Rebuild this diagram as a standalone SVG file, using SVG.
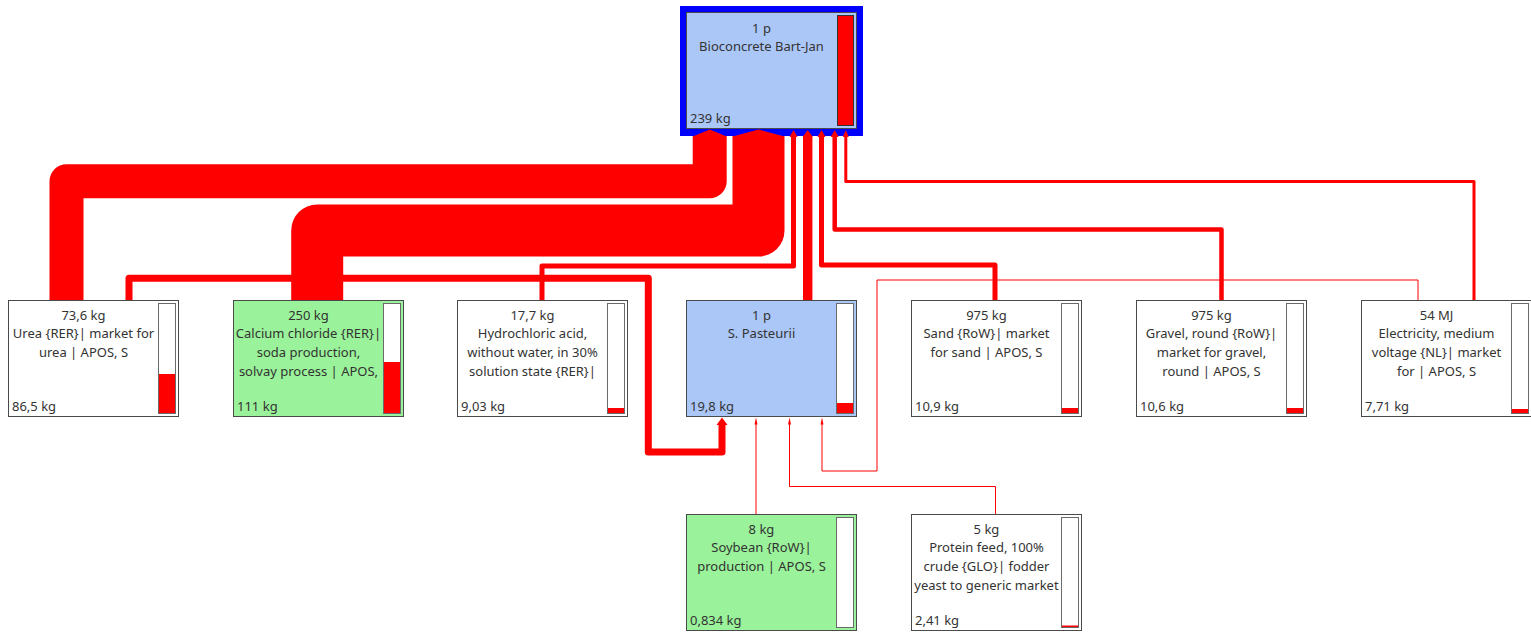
<svg xmlns="http://www.w3.org/2000/svg" width="1531" height="634" viewBox="0 0 1531 634">
<style>
text{font-family:"Noto Sans","Liberation Sans",sans-serif;font-size:13px;fill:#333}
.c{text-anchor:middle}
.box{stroke:#4a4a4a;stroke-width:1}
.white{fill:#fff}
.green{fill:#9af29a}
.blue{fill:#abc7f8}
.bar{fill:#fff;stroke:#6a6a6a;stroke-width:1}
.lvl{fill:#ff0000}
.ln{fill:none;stroke:#ff0000;stroke-linejoin:round}
.ah{fill:#ff0000}
</style>
<rect width="1531" height="634" fill="#fff"/>

<g id="node-bioconcrete">
<rect x="680" y="6" width="183" height="130" fill="#0000ff"/>
<rect x="686.5" y="12.5" width="170" height="116" class="box blue"/>
<rect x="837.5" y="15.5" width="16" height="110" fill="#ff0000" stroke="#333"/>
<text x="761.5" y="32.5" class="c">1 p</text>
<text x="761.5" y="51" class="c">Bioconcrete Bart-Jan</text>
<text x="690" y="123">239 kg</text>
</g>

<g id="node-urea">
<rect x="8.5" y="300.5" width="170" height="116" class="box white"/>
<rect x="158.5" y="303.5" width="17" height="110" class="bar"/>
<rect x="159" y="374" width="16" height="39" class="lvl"/>
<text x="83.5" y="319.5" class="c">73,6 kg</text>
<text x="83.5" y="338" class="c">Urea {RER}| market for</text>
<text x="83.5" y="357" class="c">urea | APOS, S</text>
<text x="12" y="410.5">86,5 kg</text>
</g>

<g id="node-calcium">
<rect x="233.5" y="300.5" width="170" height="116" class="box green"/>
<rect x="383.5" y="303.5" width="17" height="110" class="bar"/>
<rect x="384" y="362" width="16" height="51" class="lvl"/>
<text x="308.5" y="319.5" class="c">250 kg</text>
<text x="308.5" y="338" class="c">Calcium chloride {RER}|</text>
<text x="308.5" y="357" class="c">soda production,</text>
<text x="308.5" y="376" class="c">solvay process | APOS,</text>
<text x="237" y="410.5">111 kg</text>
</g>

<g id="node-hydrochloric">
<rect x="457.5" y="300.5" width="170" height="116" class="box white"/>
<rect x="607.5" y="303.5" width="17" height="110" class="bar"/>
<rect x="608" y="408" width="16" height="5" class="lvl"/>
<text x="532.5" y="319.5" class="c">17,7 kg</text>
<text x="532.5" y="338" class="c">Hydrochloric acid,</text>
<text x="532.5" y="357" class="c">without water, in 30%</text>
<text x="532.5" y="376" class="c">solution state {RER}|</text>
<text x="461" y="410.5">9,03 kg</text>
</g>

<g id="node-pasteurii">
<rect x="686.5" y="300.5" width="170" height="116" class="box blue"/>
<rect x="836.5" y="303.5" width="17" height="110" class="bar"/>
<rect x="837" y="403" width="16" height="10" class="lvl"/>
<text x="761.5" y="319.5" class="c">1 p</text>
<text x="761.5" y="338" class="c">S. Pasteurii</text>
<text x="690" y="410.5">19,8 kg</text>
</g>

<g id="node-sand">
<rect x="911.5" y="300.5" width="170" height="116" class="box white"/>
<rect x="1061.5" y="303.5" width="17" height="110" class="bar"/>
<rect x="1062" y="408" width="16" height="5" class="lvl"/>
<text x="986.5" y="319.5" class="c">975 kg</text>
<text x="986.5" y="338" class="c">Sand {RoW}| market</text>
<text x="986.5" y="357" class="c">for sand | APOS, S</text>
<text x="915" y="410.5">10,9 kg</text>
</g>

<g id="node-gravel">
<rect x="1136.5" y="300.5" width="170" height="116" class="box white"/>
<rect x="1286.5" y="303.5" width="17" height="110" class="bar"/>
<rect x="1287" y="408" width="16" height="5" class="lvl"/>
<text x="1211.5" y="319.5" class="c">975 kg</text>
<text x="1211.5" y="338" class="c">Gravel, round {RoW}|</text>
<text x="1211.5" y="357" class="c">market for gravel,</text>
<text x="1211.5" y="376" class="c">round | APOS, S</text>
<text x="1140" y="410.5">10,6 kg</text>
</g>

<g id="node-electricity">
<rect x="1361.5" y="300.5" width="170" height="116" class="box white"/>
<rect x="1511.5" y="303.5" width="17" height="110" class="bar"/>
<rect x="1512" y="409" width="16" height="4" class="lvl"/>
<text x="1436.5" y="319.5" class="c">54 MJ</text>
<text x="1436.5" y="338" class="c">Electricity, medium</text>
<text x="1436.5" y="357" class="c">voltage {NL}| market</text>
<text x="1436.5" y="376" class="c">for | APOS, S</text>
<text x="1365" y="410.5">7,71 kg</text>
</g>

<g id="node-soybean">
<rect x="686.5" y="514.5" width="170" height="116" class="box green"/>
<rect x="836.5" y="517.5" width="17" height="110" class="bar"/>
<text x="761.5" y="533.5" class="c">8 kg</text>
<text x="761.5" y="552" class="c">Soybean {RoW}|</text>
<text x="761.5" y="571" class="c">production | APOS, S</text>
<text x="690" y="624.5">0,834 kg</text>
</g>

<g id="node-protein">
<rect x="911.5" y="514.5" width="170" height="116" class="box white"/>
<rect x="1061.5" y="517.5" width="17" height="110" class="bar"/>
<rect x="1062" y="625.5" width="16" height="1.5" class="lvl"/>
<text x="986.5" y="533.5" class="c">5 kg</text>
<text x="986.5" y="552" class="c">Protein feed, 100%</text>
<text x="986.5" y="571" class="c">crude {GLO}| fodder</text>
<text x="986.5" y="590" class="c">yeast to generic market</text>
<text x="915" y="624.5">2,41 kg</text>
</g>

<g id="connectors">
<path class="ln" stroke-width="34" d="M66.5,300 V181.3 H709.7 V136"/>
<path class="ln" stroke-width="52" d="M317.2,300 V230.5 H758.5 V136"/>
<path class="ln" stroke-width="7" d="M129,300 V278.3 H648.3 V452 H722 V424"/>
<path class="ln" stroke-width="5" d="M542,300 V266 H793.5 V136"/>
<path class="ln" stroke-width="9.4" d="M807.7,300 V136"/>
<path class="ln" stroke-width="5" d="M995,300 V265 H821.5 V136"/>
<path class="ln" stroke-width="4.5" d="M1221.5,300 V229.5 H834.7 V136"/>
<path class="ln" stroke-width="3" d="M1474,300 V181.5 H845.8 V136"/>
<path class="ln" stroke-width="1" d="M1418,300 V280 H877 V471 H822 V423"/>
<path class="ln" stroke-width="1" d="M756,514 V423"/>
<path class="ln" stroke-width="1" d="M995.5,514 V486.5 H789.5 V423"/>
<polygon class="ah" points="692.7,136.5 709.7,129.5 726.7,136.5"/>
<polygon class="ah" points="732.5,136.5 758.5,129.5 784.5,136.5"/>
<polygon class="ah" points="789.5,137 793.5,130 797.5,137"/>
<polygon class="ah" points="802.5,137 807.7,130 812.9,137"/>
<polygon class="ah" points="817.5,137 821.5,130 825.5,137"/>
<polygon class="ah" points="830.7,137 834.7,130 838.7,137"/>
<polygon class="ah" points="842.8,137 845.8,130 848.8,137"/>
<polygon class="ah" points="716.5,425 722,417.5 727.5,425"/>
<polygon class="ah" points="754.5,424.5 756,417.5 757.5,424.5"/>
<polygon class="ah" points="788,424.5 789.5,417.5 791,424.5"/>
<polygon class="ah" points="820.5,424.5 822,417.5 823.5,424.5"/>
</g>
</svg>
